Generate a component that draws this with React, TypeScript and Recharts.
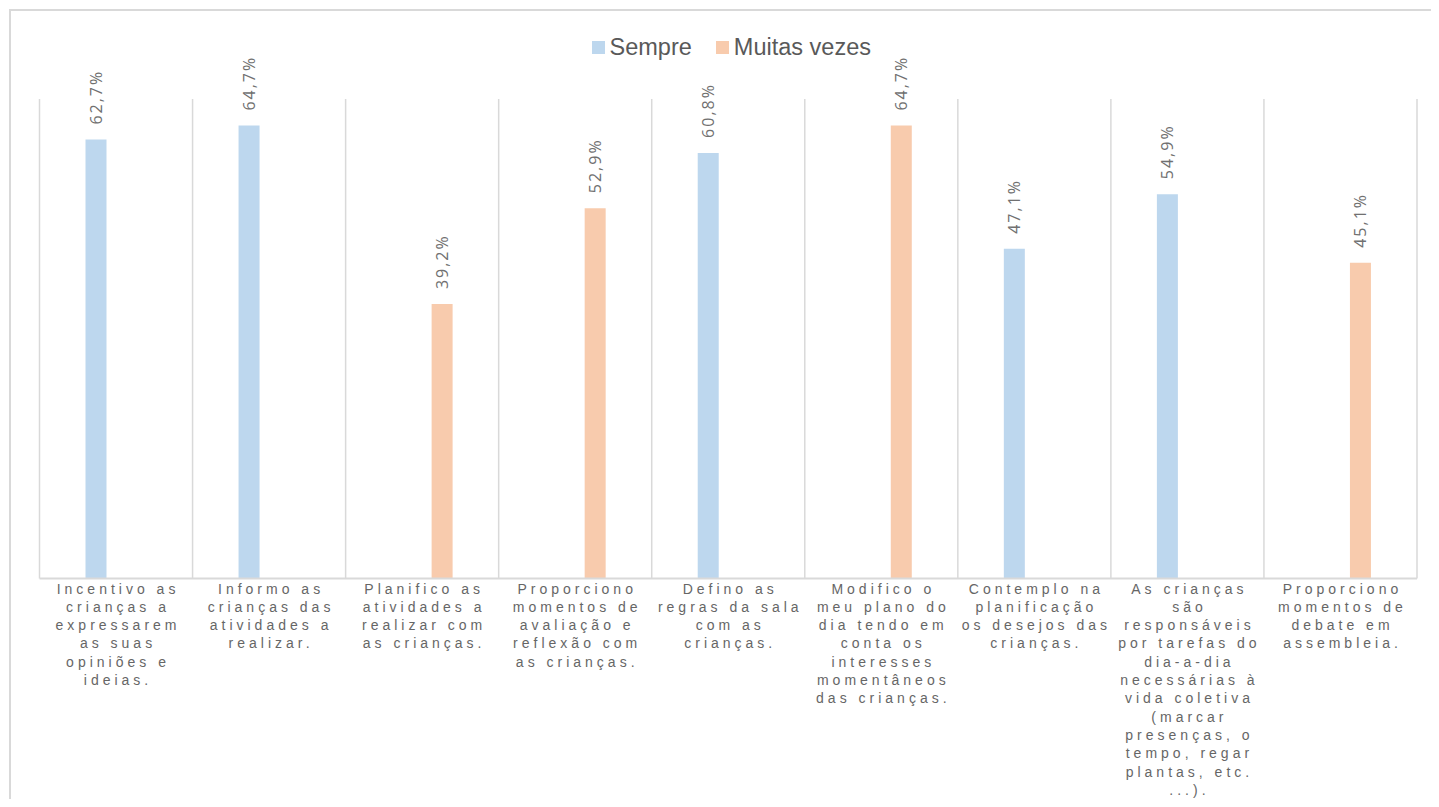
import { BarChart, Bar, XAxis, YAxis, CartesianGrid, Legend, LabelList } from "recharts";

const categories = [
  "Incentivo as crianças a expressarem as suas opiniões e ideias.",
  "Informo as crianças das atividades a realizar.",
  "Planifico as atividades a realizar com as crianças.",
  "Proporciono momentos de avaliação e reflexão com as crianças.",
  "Defino as regras da sala com as crianças.",
  "Modifico o meu plano do dia tendo em conta os interesses momentâneos das crianças.",
  "Contemplo na planificação os desejos das crianças.",
  "As crianças são responsáveis por tarefas do dia-a-dia necessárias à vida coletiva (marcar presenças, o tempo, regar plantas, etc. ...).",
  "Proporciono momentos de debate em assembleia.",
];

// line breaks as they appear under the axis
const tickLines = [
  ["Incentivo as", "crianças a", "expressarem", "as suas", "opiniões e", "ideias."],
  ["Informo as", "crianças das", "atividades a", "realizar."],
  ["Planifico as", "atividades a", "realizar com", "as crianças."],
  ["Proporciono", "momentos de", "avaliação e", "reflexão com", "as crianças."],
  ["Defino as", "regras da sala", "com as", "crianças."],
  ["Modifico o", "meu plano do", "dia tendo em", "conta os", "interesses", "momentâneos", "das crianças."],
  ["Contemplo na", "planificação", "os desejos das", "crianças."],
  ["As crianças", "são", "responsáveis", "por tarefas do", "dia-a-dia", "necessárias à", "vida coletiva", "(marcar", "presenças, o", "tempo, regar", "plantas, etc.", "...)."],
  ["Proporciono", "momentos de", "debate em", "assembleia."],
];

const seriesNames = ["Sempre", "Muitas vezes"];
const sempre = [62.7, 64.7, null, null, 60.8, null, 47.1, 54.9, null];
const muitasVezes = [null, null, 39.2, 52.9, null, 64.7, null, null, 45.1];

const data = categories.map((name, i) => ({
  name,
  sempre: sempre[i],
  muitas: muitasVezes[i],
}));

const BLUE = "#BDD7EE";
const ORANGE = "#F8CBAD";
const seriesColors = [BLUE, ORANGE];
const GRID = "#D9D9D9";
const TEXT = "#595959";

function CategoryTick(props: any) {
  const { x, y, payload } = props;
  const lines = tickLines[payload.index] || [];
  return (
    <g transform={`translate(${x},${y})`}>
      <text
        textAnchor="middle"
        fill="#666"
        fontFamily="'Liberation Sans', Arial, sans-serif"
        fontSize={14}
        letterSpacing={4}
      >
        {lines.map((l, i) => (
          <tspan key={i} x={2} y={15 + i * 18.3}>
            {l}
          </tspan>
        ))}
      </text>
    </g>
  );
}

function ValueLabel(props: any) {
  const { x, y, width, value } = props;
  if (value == null) return null;
  const cx = x + width / 2;
  const cy = y - 15;
  return (
    <text
      transform={`translate(${cx},${cy}) rotate(-90)`}
      textAnchor="start"
      dominantBaseline="central"
      fill="#707070"
      fontFamily="'Open Sans', sans-serif"
      fontSize={16}
      letterSpacing={2}
    >
      {value.toFixed(1).replace(".", ",") + "%"}
    </text>
  );
}

function LegendContent() {
  return (
    <div
      style={{
        display: "flex",
        justifyContent: "center",
        alignItems: "center",
        fontFamily: "'Liberation Sans', Arial, sans-serif",
        fontSize: 23.5,
        color: TEXT,
        paddingLeft: 6,
      }}
    >
      {seriesNames.map((s, i) => (
        <span key={s} style={{ display: "flex", alignItems: "center", marginRight: i === 0 ? 24 : 0 }}>
          <span style={{ width: 13, height: 13, background: seriesColors[i], marginRight: 5, display: "inline-block" }} />
          {s}
        </span>
      ))}
    </div>
  );
}

export default function App() {
  return (
    <div style={{ width: 1423, height: 791, overflow: "hidden" }}>
      <div
        style={{
          position: "relative",
          left: 1,
          top: 1,
          width: 1460,
          height: 830,
          border: `2px solid ${GRID}`,
          background: "#fff",
        }}
      >
        <BarChart
          width={1440}
          height={810}
          data={data}
          margin={{ top: 88, right: 34, left: 28.5, bottom: 12.5 }}
          barSize={21}
          barGap={19}
        >
          <CartesianGrid
            horizontal={false}
            stroke={GRID}
            strokeWidth={1.5}
            verticalCoordinatesGenerator={({ offset }: any) =>
              categories.map((_, i) => offset.left + (i * offset.width) / categories.length).concat(offset.left + offset.width)
            }
          />
          <XAxis
            dataKey="name"
            interval={0}
            tickLine={false}
            tickSize={0}
            tickMargin={0}
            height={230}
            axisLine={{ stroke: GRID, strokeWidth: 2 }}
            tick={<CategoryTick />}
          />
          <YAxis hide domain={[0, 68.5]} />
          <Legend
            verticalAlign="middle"
            align="center"
            layout="horizontal"
            wrapperStyle={{ top: 23 }}
            content={<LegendContent />}
          />
          <Bar dataKey="sempre" name={seriesNames[0]} fill={BLUE} isAnimationActive={false}>
            <LabelList dataKey="sempre" content={<ValueLabel />} />
          </Bar>
          <Bar dataKey="muitas" name={seriesNames[1]} fill={ORANGE} isAnimationActive={false}>
            <LabelList dataKey="muitas" content={<ValueLabel />} />
          </Bar>
        </BarChart>
      </div>
    </div>
  );
}
